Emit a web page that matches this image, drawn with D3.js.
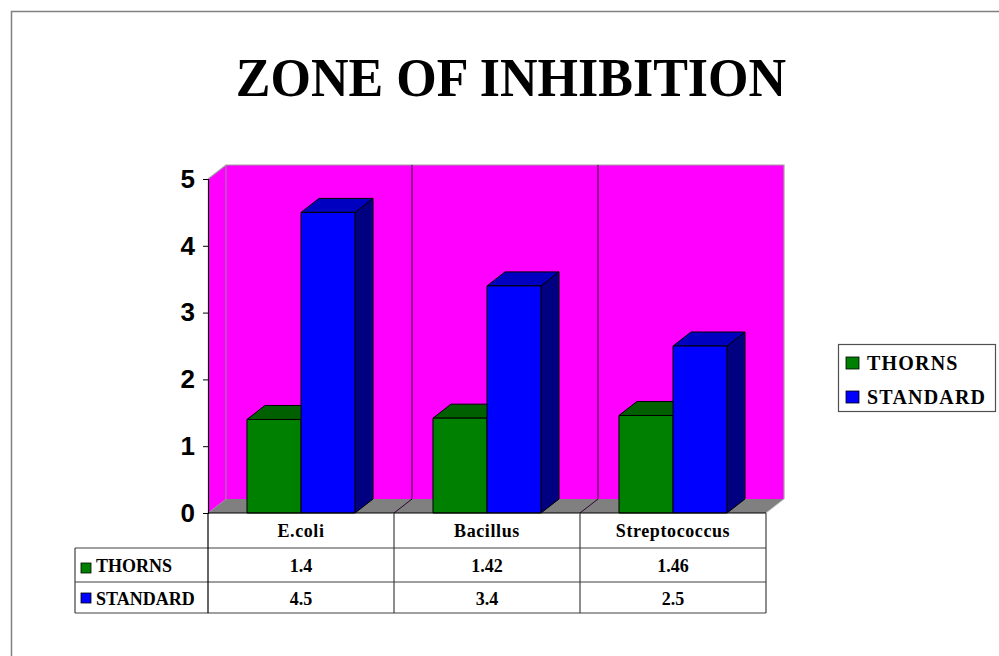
<!DOCTYPE html>
<html><head><meta charset="utf-8">
<script src="https://cdn.jsdelivr.net/npm/d3@7"></script>
<style>html,body{margin:0;padding:0;background:#fff;overflow:hidden}</style>
</head><body>
<svg id="c" width="999" height="656"></svg>
<script>
const categories = ["E.coli", "Bacillus", "Streptococcus"];
const seriesNames = ["THORNS", "STANDARD"];
const thorns = [1.4, 1.42, 1.46];
const standard = [4.5, 3.4, 2.5];
const tableThorns = ["1.4", "1.42", "1.46"];
const tableStandard = ["4.5", "3.4", "2.5"];
const yTicks = [0, 1, 2, 3, 4, 5];

const colors = {
  THORNS: {front: "#008000", top: "#006000", side: "#004000"},
  STANDARD: {front: "#0000ff", top: "#0000c0", side: "#000080"}
};
const seriesData = {THORNS: thorns, STANDARD: standard};

const svg = d3.select("#c");
const serif = "'Liberation Serif','Times New Roman',serif";
const sans = "'Liberation Sans',Arial,sans-serif";

// outer chart border
svg.append("rect").attr("x", 11.5).attr("y", 11.5).attr("width", 1100).attr("height", 1100)
  .attr("fill", "none").attr("stroke", "#808080").attr("stroke-width", 1.5);

// title
svg.append("text").attr("transform", "translate(511,96) scale(0.982,1.04)").attr("text-anchor", "middle")
  .style("font-family", serif).style("font-weight", "bold").style("font-size", "53px")
  .text("ZONE OF INHIBITION");

const x0 = d3.scaleBand().domain(categories).range([208, 766]);
const x1 = d3.scaleBand().domain(seriesNames).range([0, x0.bandwidth()]).paddingOuter(0.722).paddingInner(0);
const y = d3.scaleLinear().domain([0, 5]).range([513, 179]);
const dx = 18, dy = -14;
const L = x0.range()[0], R = x0.range()[1];

// back wall
svg.append("rect").attr("x", L + dx).attr("y", y(5) + dy).attr("width", R - L).attr("height", y(0) - y(5))
  .attr("fill", "#ff00ff");
// side wall
svg.append("path").attr("d", `M${L},${y(0)} L${L},${y(5)} L${L+dx},${y(5)+dy} L${L+dx},${y(0)+dy} Z`)
  .attr("fill", "#ff00ff");
// wall edges
svg.append("path").attr("d", `M${L},${y(5)} L${L+dx},${y(5)+dy} L${R+dx},${y(5)+dy} L${R+dx},${y(0)+dy}`)
  .attr("fill", "none").attr("stroke", "#a0a0a0").attr("stroke-width", 1.2);
svg.append("line").attr("x1", L + dx).attr("x2", L + dx).attr("y1", y(5) + dy).attr("y2", y(0) + dy)
  .attr("stroke", "#909090").attr("stroke-width", 1);
// floor
svg.append("path").attr("d", `M${L},${y(0)} L${R},${y(0)} L${R+dx},${y(0)+dy} L${L+dx},${y(0)+dy} Z`)
  .attr("fill", "#808080");
svg.append("line").attr("x1", R).attr("y1", y(0)).attr("x2", R + dx).attr("y2", y(0) + dy)
  .attr("stroke", "#c0c0c0").attr("stroke-width", 1);

// category gridlines on wall + floor
categories.slice(1).forEach(c => {
  const xb = x0(c);
  svg.append("path").attr("d", `M${xb},${y(0)} L${xb+dx},${y(0)+dy} L${xb+dx},${y(5)+dy}`)
    .attr("fill", "none").attr("stroke", "#300030").attr("stroke-width", 1);
});

// bars
categories.forEach((c, i) => {
  seriesNames.forEach(s => {
    const v = seriesData[s][i];
    const bx = x0(c) + x1(s), bw = x1.bandwidth();
    const top = y(v), base = y(0);
    const col = colors[s];
    const g = svg.append("g").attr("stroke", "#000").attr("stroke-width", 1).attr("stroke-linejoin", "round");
    g.append("path").attr("d", `M${bx+bw},${base} L${bx+bw+dx},${base+dy} L${bx+bw+dx},${top+dy} L${bx+bw},${top} Z`)
      .attr("fill", col.side);
    g.append("path").attr("d", `M${bx},${top} L${bx+dx},${top+dy} L${bx+bw+dx},${top+dy} L${bx+bw},${top} Z`)
      .attr("fill", col.top);
    g.append("rect").attr("x", bx).attr("y", top).attr("width", bw).attr("height", base - top)
      .attr("fill", col.front);
  });
});

// y axis
const ax = svg.append("g").attr("transform", `translate(${L},0)`)
  .call(d3.axisLeft(y).tickValues(yTicks).tickFormat(d3.format("d")).tickSize(5).tickPadding(8));
ax.select(".domain").attr("stroke", "#000").attr("stroke-width", 1.2);
ax.selectAll(".tick line").attr("stroke", "#000");
ax.selectAll(".tick text").style("font-family", sans).style("font-weight", "bold").style("font-size", "26px").attr("fill", "#000");

// data table
const tLeft = 75, rowY = [513, 548, 582, 613];
const tbl = svg.append("g").attr("stroke", "#404040").attr("stroke-width", 1.2).attr("fill", "none");
tbl.append("line").attr("x1", L).attr("x2", R).attr("y1", rowY[0]).attr("y2", rowY[0]).attr("stroke", "#000");
tbl.append("line").attr("x1", tLeft).attr("x2", R).attr("y1", rowY[1]).attr("y2", rowY[1]);
tbl.append("line").attr("x1", tLeft).attr("x2", R).attr("y1", rowY[2]).attr("y2", rowY[2]);
tbl.append("line").attr("x1", tLeft).attr("x2", R).attr("y1", rowY[3]).attr("y2", rowY[3]);
tbl.append("line").attr("x1", tLeft).attr("x2", tLeft).attr("y1", rowY[1]).attr("y2", rowY[3]);
tbl.append("line").attr("x1", L).attr("x2", L).attr("y1", rowY[0]).attr("y2", rowY[3]).attr("stroke", "#000");
categories.forEach(c => {
  tbl.append("line").attr("x1", x0(c) + x0.bandwidth()).attr("x2", x0(c) + x0.bandwidth())
    .attr("y1", rowY[0]).attr("y2", rowY[3]);
});
const tt = svg.append("g").style("font-family", serif).style("font-weight", "bold").style("font-size", "18px")
  .attr("text-anchor", "middle").attr("fill", "#000");
categories.forEach((c, i) => {
  const cx = x0(c) + x0.bandwidth() / 2;
  tt.append("text").attr("x", cx).attr("y", 537).style("letter-spacing", "0.6px").text(c);
  tt.append("text").attr("x", cx).attr("y", 572).text(tableThorns[i]);
  tt.append("text").attr("x", cx).attr("y", 605).text(tableStandard[i]);
});
[[seriesNames[0], 572, 563], [seriesNames[1], 605, 593]].forEach(([s, ty, sy]) => {
  svg.append("rect").attr("x", 81).attr("y", sy).attr("width", 10).attr("height", 10)
    .attr("fill", colors[s].front).attr("stroke", "#000").attr("stroke-width", 0.8);
  svg.append("text").attr("x", 96).attr("y", ty).style("font-family", serif).style("font-weight", "bold")
    .style("font-size", "18px").text(s);
});

// legend
svg.append("rect").attr("x", 838.5).attr("y", 344.5).attr("width", 157).attr("height", 67)
  .attr("fill", "#fff").attr("stroke", "#505050").attr("stroke-width", 1.2);
seriesNames.forEach((s, i) => {
  const ly = 363 + i * 34;
  svg.append("rect").attr("x", 846).attr("y", ly - 6).attr("width", 13).attr("height", 12)
    .attr("fill", colors[s].front).attr("stroke", "#000").attr("stroke-width", 0.8);
  svg.append("text").attr("x", 867).attr("y", ly + 7).style("font-family", serif).style("font-weight", "bold")
    .style("font-size", "20px").style("letter-spacing", "1.2px").text(s);
});
</script>
</body></html>
